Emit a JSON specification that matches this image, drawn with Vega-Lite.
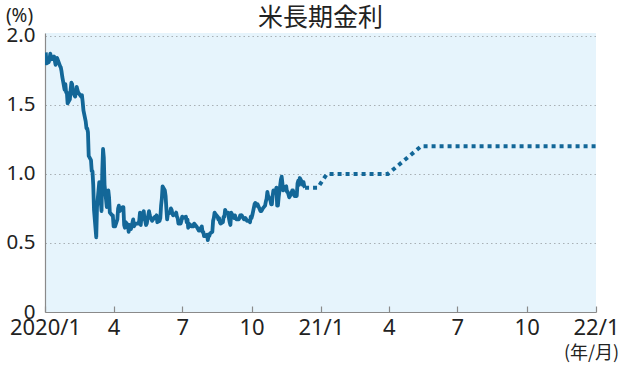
{
  "$schema": "https://vega.github.io/schema/vega-lite/v6.json",
  "width": 551,
  "height": 279,
  "autosize": {"type": "none"},
  "padding": {"left": 45, "top": 33, "right": 24, "bottom": 53},
  "background": "white",
  "title": {
    "text": "米長期金利",
    "font": "Noto Sans CJK JP",
    "fontSize": 25,
    "fontWeight": "normal",
    "color": "#222222",
    "anchor": "middle",
    "offset": -25
  },
  "config": {
    "view": {"fill": "#e6f4fc", "stroke": null},
    "font": "Noto Sans",
    "axis": {
      "labelFont": "Noto Sans",
      "labelFontSize": 20,
      "labelColor": "#222222",
      "domainColor": "#8a8a8a",
      "domainWidth": 1.2,
      "tickColor": "#8a8a8a",
      "titleFont": "Noto Sans CJK JP",
      "titleFontWeight": "normal",
      "titleColor": "#222222"
    }
  },
  "datasets": {
    "actual": [
      {"d": "2020-01-02", "v": 1.88}, {"d": "2020-01-03", "v": 1.80}, {"d": "2020-01-06", "v": 1.81}, {"d": "2020-01-07", "v": 1.83},
      {"d": "2020-01-08", "v": 1.87}, {"d": "2020-01-09", "v": 1.85}, {"d": "2020-01-10", "v": 1.83}, {"d": "2020-01-13", "v": 1.85},
      {"d": "2020-01-14", "v": 1.82}, {"d": "2020-01-15", "v": 1.79}, {"d": "2020-01-16", "v": 1.81}, {"d": "2020-01-17", "v": 1.84},
      {"d": "2020-01-21", "v": 1.78}, {"d": "2020-01-22", "v": 1.77}, {"d": "2020-01-23", "v": 1.74}, {"d": "2020-01-24", "v": 1.70},
      {"d": "2020-01-27", "v": 1.61}, {"d": "2020-01-28", "v": 1.65}, {"d": "2020-01-29", "v": 1.59}, {"d": "2020-01-30", "v": 1.59},
      {"d": "2020-01-31", "v": 1.51}, {"d": "2020-02-03", "v": 1.54}, {"d": "2020-02-04", "v": 1.61}, {"d": "2020-02-05", "v": 1.66},
      {"d": "2020-02-06", "v": 1.65}, {"d": "2020-02-07", "v": 1.59}, {"d": "2020-02-10", "v": 1.56}, {"d": "2020-02-11", "v": 1.59},
      {"d": "2020-02-12", "v": 1.63}, {"d": "2020-02-13", "v": 1.61}, {"d": "2020-02-14", "v": 1.59}, {"d": "2020-02-18", "v": 1.56},
      {"d": "2020-02-19", "v": 1.57}, {"d": "2020-02-20", "v": 1.52}, {"d": "2020-02-21", "v": 1.46}, {"d": "2020-02-24", "v": 1.38},
      {"d": "2020-02-25", "v": 1.33}, {"d": "2020-02-26", "v": 1.33}, {"d": "2020-02-27", "v": 1.30}, {"d": "2020-02-28", "v": 1.13},
      {"d": "2020-03-02", "v": 1.10}, {"d": "2020-03-03", "v": 1.02}, {"d": "2020-03-04", "v": 1.02}, {"d": "2020-03-05", "v": 0.92},
      {"d": "2020-03-06", "v": 0.74}, {"d": "2020-03-09", "v": 0.54}, {"d": "2020-03-10", "v": 0.76}, {"d": "2020-03-11", "v": 0.82},
      {"d": "2020-03-12", "v": 0.88}, {"d": "2020-03-13", "v": 0.94}, {"d": "2020-03-16", "v": 0.73}, {"d": "2020-03-17", "v": 1.02},
      {"d": "2020-03-18", "v": 1.18}, {"d": "2020-03-19", "v": 1.12}, {"d": "2020-03-20", "v": 0.92}, {"d": "2020-03-23", "v": 0.76},
      {"d": "2020-03-24", "v": 0.84}, {"d": "2020-03-25", "v": 0.88}, {"d": "2020-03-26", "v": 0.83}, {"d": "2020-03-27", "v": 0.72},
      {"d": "2020-03-30", "v": 0.70}, {"d": "2020-03-31", "v": 0.70}, {"d": "2020-04-01", "v": 0.62}, {"d": "2020-04-02", "v": 0.63},
      {"d": "2020-04-03", "v": 0.62}, {"d": "2020-04-06", "v": 0.67}, {"d": "2020-04-07", "v": 0.75}, {"d": "2020-04-08", "v": 0.77},
      {"d": "2020-04-09", "v": 0.73}, {"d": "2020-04-13", "v": 0.76}, {"d": "2020-04-14", "v": 0.76}, {"d": "2020-04-15", "v": 0.63},
      {"d": "2020-04-16", "v": 0.61}, {"d": "2020-04-17", "v": 0.65}, {"d": "2020-04-20", "v": 0.63}, {"d": "2020-04-21", "v": 0.58},
      {"d": "2020-04-22", "v": 0.63}, {"d": "2020-04-23", "v": 0.61}, {"d": "2020-04-24", "v": 0.60}, {"d": "2020-04-27", "v": 0.67},
      {"d": "2020-04-28", "v": 0.62}, {"d": "2020-04-29", "v": 0.63}, {"d": "2020-04-30", "v": 0.64}, {"d": "2020-05-01", "v": 0.64},
      {"d": "2020-05-04", "v": 0.64}, {"d": "2020-05-05", "v": 0.66}, {"d": "2020-05-06", "v": 0.72}, {"d": "2020-05-07", "v": 0.63},
      {"d": "2020-05-08", "v": 0.69}, {"d": "2020-05-11", "v": 0.73}, {"d": "2020-05-12", "v": 0.67}, {"d": "2020-05-13", "v": 0.66},
      {"d": "2020-05-14", "v": 0.63}, {"d": "2020-05-15", "v": 0.64}, {"d": "2020-05-18", "v": 0.73}, {"d": "2020-05-19", "v": 0.70},
      {"d": "2020-05-20", "v": 0.68}, {"d": "2020-05-21", "v": 0.68}, {"d": "2020-05-22", "v": 0.66}, {"d": "2020-05-26", "v": 0.69},
      {"d": "2020-05-27", "v": 0.69}, {"d": "2020-05-28", "v": 0.70}, {"d": "2020-05-29", "v": 0.65}, {"d": "2020-06-01", "v": 0.66},
      {"d": "2020-06-02", "v": 0.68}, {"d": "2020-06-03", "v": 0.77}, {"d": "2020-06-04", "v": 0.82}, {"d": "2020-06-05", "v": 0.91},
      {"d": "2020-06-08", "v": 0.88}, {"d": "2020-06-09", "v": 0.84}, {"d": "2020-06-10", "v": 0.75}, {"d": "2020-06-11", "v": 0.67},
      {"d": "2020-06-12", "v": 0.71}, {"d": "2020-06-15", "v": 0.72}, {"d": "2020-06-16", "v": 0.75}, {"d": "2020-06-17", "v": 0.74},
      {"d": "2020-06-18", "v": 0.71}, {"d": "2020-06-19", "v": 0.70}, {"d": "2020-06-22", "v": 0.71}, {"d": "2020-06-23", "v": 0.72},
      {"d": "2020-06-24", "v": 0.69}, {"d": "2020-06-25", "v": 0.68}, {"d": "2020-06-26", "v": 0.64}, {"d": "2020-06-29", "v": 0.64},
      {"d": "2020-06-30", "v": 0.66}, {"d": "2020-07-01", "v": 0.69}, {"d": "2020-07-02", "v": 0.68}, {"d": "2020-07-06", "v": 0.69},
      {"d": "2020-07-07", "v": 0.65}, {"d": "2020-07-08", "v": 0.67}, {"d": "2020-07-09", "v": 0.61}, {"d": "2020-07-10", "v": 0.64},
      {"d": "2020-07-13", "v": 0.62}, {"d": "2020-07-14", "v": 0.62}, {"d": "2020-07-15", "v": 0.63}, {"d": "2020-07-16", "v": 0.62},
      {"d": "2020-07-17", "v": 0.64}, {"d": "2020-07-20", "v": 0.62}, {"d": "2020-07-21", "v": 0.61}, {"d": "2020-07-22", "v": 0.60},
      {"d": "2020-07-23", "v": 0.59}, {"d": "2020-07-24", "v": 0.59}, {"d": "2020-07-27", "v": 0.62}, {"d": "2020-07-28", "v": 0.58},
      {"d": "2020-07-29", "v": 0.58}, {"d": "2020-07-30", "v": 0.55}, {"d": "2020-07-31", "v": 0.55}, {"d": "2020-08-03", "v": 0.56},
      {"d": "2020-08-04", "v": 0.52}, {"d": "2020-08-05", "v": 0.55}, {"d": "2020-08-06", "v": 0.55}, {"d": "2020-08-07", "v": 0.57},
      {"d": "2020-08-10", "v": 0.58}, {"d": "2020-08-11", "v": 0.66}, {"d": "2020-08-12", "v": 0.68}, {"d": "2020-08-13", "v": 0.72},
      {"d": "2020-08-14", "v": 0.71}, {"d": "2020-08-17", "v": 0.69}, {"d": "2020-08-18", "v": 0.67}, {"d": "2020-08-19", "v": 0.68},
      {"d": "2020-08-20", "v": 0.65}, {"d": "2020-08-21", "v": 0.64}, {"d": "2020-08-24", "v": 0.65}, {"d": "2020-08-25", "v": 0.69},
      {"d": "2020-08-26", "v": 0.69}, {"d": "2020-08-27", "v": 0.74}, {"d": "2020-08-28", "v": 0.72}, {"d": "2020-08-31", "v": 0.72},
      {"d": "2020-09-01", "v": 0.68}, {"d": "2020-09-02", "v": 0.65}, {"d": "2020-09-03", "v": 0.63}, {"d": "2020-09-04", "v": 0.72},
      {"d": "2020-09-08", "v": 0.68}, {"d": "2020-09-09", "v": 0.70}, {"d": "2020-09-10", "v": 0.68}, {"d": "2020-09-11", "v": 0.67},
      {"d": "2020-09-14", "v": 0.67}, {"d": "2020-09-15", "v": 0.68}, {"d": "2020-09-16", "v": 0.70}, {"d": "2020-09-17", "v": 0.69},
      {"d": "2020-09-18", "v": 0.70}, {"d": "2020-09-21", "v": 0.67}, {"d": "2020-09-22", "v": 0.67}, {"d": "2020-09-23", "v": 0.68},
      {"d": "2020-09-24", "v": 0.67}, {"d": "2020-09-25", "v": 0.66}, {"d": "2020-09-28", "v": 0.66}, {"d": "2020-09-29", "v": 0.65},
      {"d": "2020-09-30", "v": 0.69}, {"d": "2020-10-01", "v": 0.68}, {"d": "2020-10-02", "v": 0.70}, {"d": "2020-10-05", "v": 0.78},
      {"d": "2020-10-06", "v": 0.79}, {"d": "2020-10-07", "v": 0.78}, {"d": "2020-10-08", "v": 0.77}, {"d": "2020-10-09", "v": 0.78},
      {"d": "2020-10-13", "v": 0.73}, {"d": "2020-10-14", "v": 0.73}, {"d": "2020-10-15", "v": 0.74}, {"d": "2020-10-16", "v": 0.75},
      {"d": "2020-10-19", "v": 0.77}, {"d": "2020-10-20", "v": 0.80}, {"d": "2020-10-21", "v": 0.82}, {"d": "2020-10-22", "v": 0.87},
      {"d": "2020-10-23", "v": 0.84}, {"d": "2020-10-26", "v": 0.81}, {"d": "2020-10-27", "v": 0.78}, {"d": "2020-10-28", "v": 0.78},
      {"d": "2020-10-29", "v": 0.84}, {"d": "2020-10-30", "v": 0.88}, {"d": "2020-11-02", "v": 0.87}, {"d": "2020-11-03", "v": 0.90},
      {"d": "2020-11-04", "v": 0.77}, {"d": "2020-11-05", "v": 0.77}, {"d": "2020-11-06", "v": 0.83}, {"d": "2020-11-09", "v": 0.96},
      {"d": "2020-11-10", "v": 0.98}, {"d": "2020-11-12", "v": 0.88}, {"d": "2020-11-13", "v": 0.90}, {"d": "2020-11-16", "v": 0.91},
      {"d": "2020-11-17", "v": 0.87}, {"d": "2020-11-18", "v": 0.87}, {"d": "2020-11-19", "v": 0.85}, {"d": "2020-11-20", "v": 0.83},
      {"d": "2020-11-23", "v": 0.86}, {"d": "2020-11-24", "v": 0.88}, {"d": "2020-11-25", "v": 0.88}, {"d": "2020-11-27", "v": 0.84},
      {"d": "2020-11-30", "v": 0.84}, {"d": "2020-12-01", "v": 0.93}, {"d": "2020-12-02", "v": 0.95}, {"d": "2020-12-03", "v": 0.92},
      {"d": "2020-12-04", "v": 0.97}, {"d": "2020-12-07", "v": 0.94}, {"d": "2020-12-08", "v": 0.92}, {"d": "2020-12-09", "v": 0.94},
      {"d": "2020-12-10", "v": 0.91}, {"d": "2020-12-11", "v": 0.90}
    ],
    "forecast": [
      {"d": "2020-12-11", "v": 0.90},
      {"d": "2020-12-28", "v": 0.90},
      {"d": "2021-01-09", "v": 1.00},
      {"d": "2021-03-31", "v": 1.00},
      {"d": "2021-05-14", "v": 1.20},
      {"d": "2022-01-01", "v": 1.20}
    ]
  },
  "encoding": {
    "x": {
      "field": "d",
      "type": "temporal",
      "scale": {"type": "utc", "domain": [{"year": 2020, "month": 1, "date": 1, "utc": true}, {"year": 2022, "month": 1, "date": 1, "utc": true}]},
      "axis": {
        "title": "(年/月)",
        "titleFontSize": 18,
        "titleAngle": 0,
        "titleAlign": "center",
        "titleBaseline": "middle",
        "titleX": 546,
        "titleY": 41,
        "values": [
          {"year": 2020, "month": 1, "date": 1, "utc": true}, {"year": 2020, "month": 4, "date": 1, "utc": true},
          {"year": 2020, "month": 7, "date": 1, "utc": true}, {"year": 2020, "month": 10, "date": 1, "utc": true},
          {"year": 2021, "month": 1, "date": 1, "utc": true}, {"year": 2021, "month": 4, "date": 1, "utc": true},
          {"year": 2021, "month": 7, "date": 1, "utc": true}, {"year": 2021, "month": 10, "date": 1, "utc": true},
          {"year": 2022, "month": 1, "date": 1, "utc": true}
        ],
        "labelExpr": "utcmonth(datum.value) == 0 ? (utcyear(datum.value) == 2020 ? '2020/1' : (utcyear(datum.value) - 2000) + '/1') : '' + (utcmonth(datum.value) + 1)",
        "labelFontSize": 22,
        "labelPadding": 11,
        "labelBaseline": "top",
        "labelOverlap": false,
        "labelFlush": false,
        "tickSize": -6,
        "tickWidth": 1.2,
        "grid": false
      }
    },
    "y": {
      "field": "v",
      "type": "quantitative",
      "scale": {"domain": [0, 2.02], "nice": false, "zero": true},
      "axis": {
        "title": "(%)",
        "titleFont": "Noto Sans",
        "titleFontSize": 19,
        "titleAngle": 0,
        "titleAlign": "center",
        "titleBaseline": "middle",
        "titleX": -26,
        "titleY": -18,
        "values": [0, 0.5, 1, 1.5, 2],
        "labelExpr": "datum.value == 0 ? '0' : format(datum.value, '.1f')",
        "labelFontSize": 20.5,
        "labelPadding": 10,
        "ticks": false,
        "grid": true,
        "gridColor": "#a8b0b5",
        "gridDash": [1.5, 3],
        "gridWidth": 1,
        "gridOpacity": {"expr": "datum.value == 0 ? 0 : 1"}
      }
    }
  },
  "layer": [
    {
      "data": {"name": "actual"},
      "mark": {"type": "line", "color": "#136798", "strokeWidth": 3.8, "strokeJoin": "round", "clip": true}
    },
    {
      "data": {"name": "forecast"},
      "mark": {"type": "line", "color": "#136798", "strokeWidth": 4, "strokeDash": [4, 4], "strokeCap": "butt", "clip": true}
    }
  ]
}
